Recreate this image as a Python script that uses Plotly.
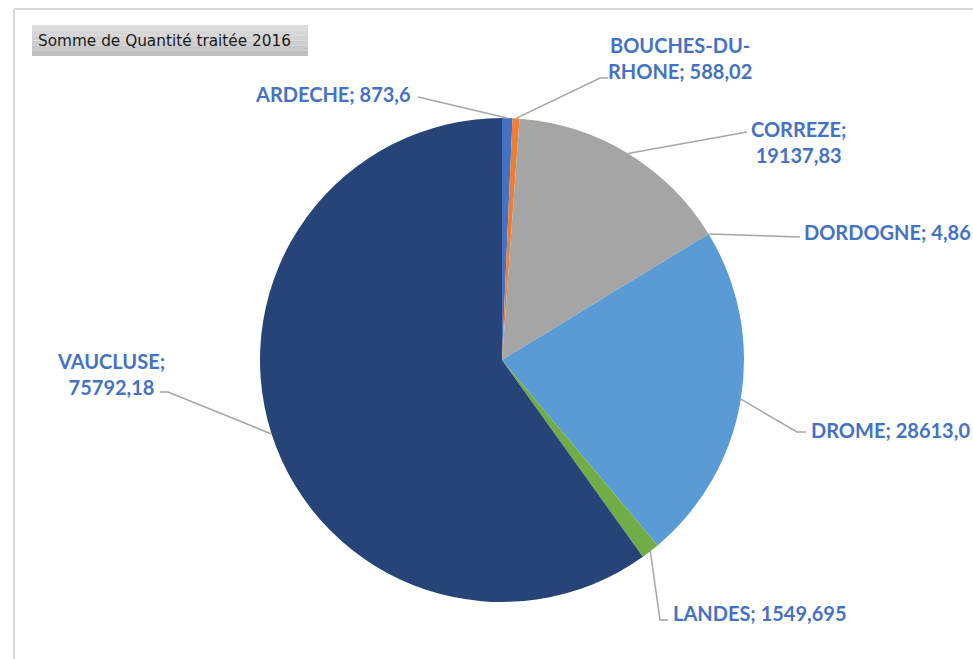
import math
import plotly.graph_objects as go

# Quantité traitée en 2016, par département
departements = ["ARDECHE", "BOUCHES-DU-RHONE", "CORREZE", "DORDOGNE", "DROME", "LANDES", "VAUCLUSE"]
quantites = [873.6, 588.02, 19137.83, 4.86, 28613.0, 1549.695, 75792.18]
couleurs = ["#4472C4", "#ED7D31", "#A5A5A5", "#FFC000", "#5B9BD5", "#70AD47", "#264478"]

W, H = 973, 659
CX, CY, R = 502, 360, 242  # pie centre / radius in pixels

def px(x):
    return x / W

def py(y):
    return 1 - y / H

fig = go.Figure(go.Pie(
    labels=departements,
    values=quantites,
    sort=False,
    direction="clockwise",
    rotation=0,
    marker=dict(colors=couleurs, line=dict(width=0)),
    textinfo="none",
    hoverinfo="label+value",
    showlegend=False,
    domain=dict(x=[px(CX - R), px(CX + R)], y=[py(CY + R), py(CY - R)]),
))

# label placement: (label anchor x, y, xanchor, line break after, elbow points)
placement = {
    "ARDECHE": dict(tx=413, ty=94, xa="right", br=None, path=[(418, 97)]),
    "BOUCHES-DU-RHONE": dict(tx=680, ty=58, xa="center", br="BOUCHES-DU-", path=[(600, 78), (608, 78)]),
    "CORREZE": dict(tx=798, ty=142, xa="center", br="CORREZE;", path=[(747, 132)]),
    "DORDOGNE": dict(tx=802, ty=232, xa="left", br=None, path=[(800, 237)]),
    "DROME": dict(tx=809, ty=430, xa="left", br=None, path=[(797, 432), (806, 432)]),
    "LANDES": dict(tx=671, ty=613, xa="left", br=None, path=[(660, 620), (668, 620)]),
    "VAUCLUSE": dict(tx=111, ty=374, xa="center", br="VAUCLUSE;", path=[(168, 392), (160, 392)]),
}

total = sum(quantites)
shapes = []
annotations = []
cum = 0.0
for name, val in zip(departements, quantites):
    mid = (cum + val / 2) / total * 2 * math.pi
    cum += val
    ex, ey = CX + R * math.sin(mid), CY - R * math.cos(mid)
    p = placement[name]
    pts = [(ex, ey)] + p["path"]
    d = "M " + " L ".join(f"{px(x):.5f},{py(y):.5f}" for x, y in pts)
    shapes.append(dict(type="path", xref="paper", yref="paper", path=d,
                       line=dict(color="#A6A6A6", width=1.5)))
    txt = f"{name}; {str(val).replace('.', ',')}"
    if p["br"]:
        txt = txt.replace(p["br"], p["br"] + "<br>", 1).replace("<br> ", "<br>")
    annotations.append(dict(
        x=px(p["tx"]), y=py(p["ty"]), xref="paper", yref="paper",
        xanchor=p["xa"], yanchor="middle", showarrow=False, align="center",
        text=f"<b>{txt}</b>",
        font=dict(family="Lato", size=20, color="#4472C4"),
    ))

# chart frame (top and left edges)
shapes.append(dict(type="line", xref="paper", yref="paper", x0=px(14), x1=1.01, y0=py(9), y1=py(9),
                   line=dict(color="#D9D9D9", width=2)))
shapes.append(dict(type="line", xref="paper", yref="paper", x0=px(14), x1=px(14), y0=py(9), y1=-0.01,
                   line=dict(color="#D9D9D9", width=2)))

# field button with a soft vertical gradient
grad = ["#DCDCDC", "#D6D6D6", "#D2D2D2", "#CECECE", "#C8C8C8", "#BEBEBE"]
y0, y1 = 25, 56
step = (y1 - y0) / len(grad)
for i, c in enumerate(grad):
    shapes.append(dict(type="rect", xref="paper", yref="paper",
                       x0=px(32), x1=px(308), y0=py(y0 + (i + 1) * step), y1=py(y0 + i * step),
                       fillcolor=c, line=dict(width=0), layer="below"))
annotations.append(dict(
    x=px(36), y=py(41), xref="paper", yref="paper", xanchor="left", yanchor="middle",
    showarrow=False, text="Somme de Quantité traitée 2016",
    font=dict(family="DejaVu Sans", size=15.3, color="#1A1A1A"),
))

fig.update_layout(
    width=W, height=H,
    margin=dict(l=0, r=0, t=0, b=0),
    paper_bgcolor="white",
    plot_bgcolor="white",
    shapes=shapes,
    annotations=annotations,
)

fig.write_html("out.html")
